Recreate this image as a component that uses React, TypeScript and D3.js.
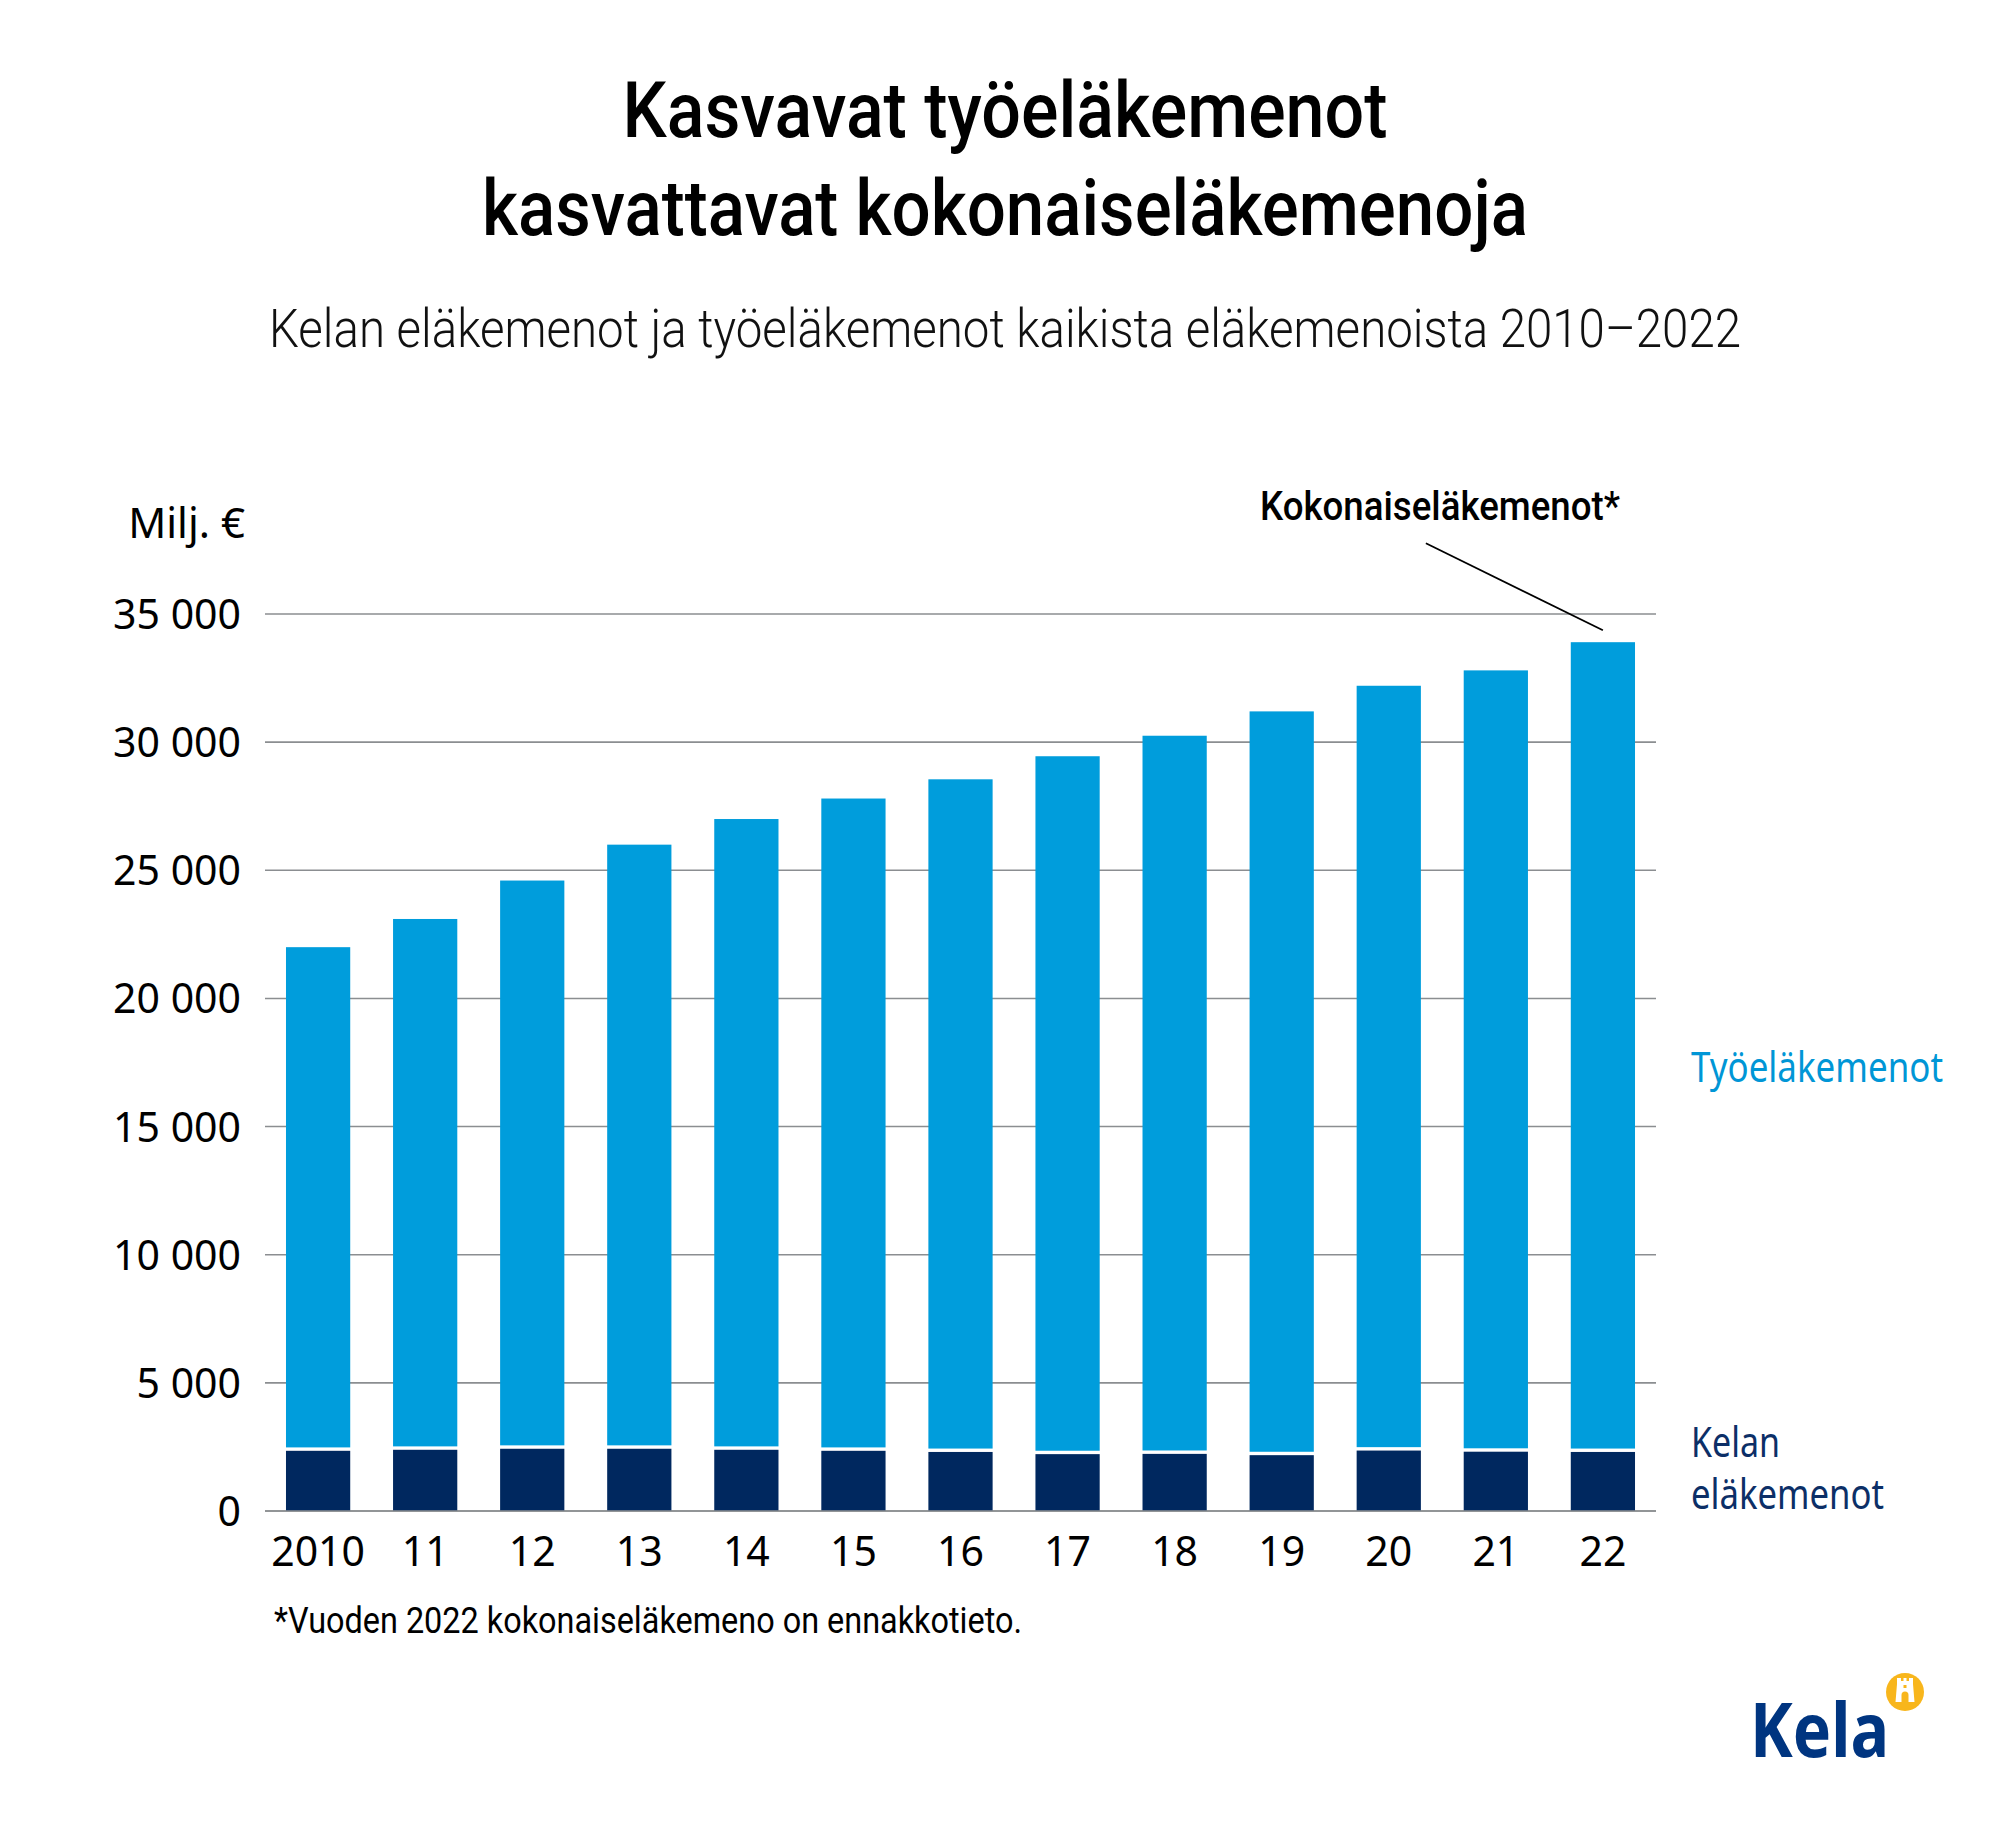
import React from 'react';
import * as d3 from 'd3';

const years = ['2010', '11', '12', '13', '14', '15', '16', '17', '18', '19', '20', '21', '22'];
// Kelan eläkemenot, milj. €
const kelaValues = [2415, 2455, 2495, 2495, 2455, 2415, 2370, 2285, 2295, 2245, 2425, 2380, 2370];
// Työeläkemenot, milj. €
const tyoValues = [19585, 20645, 22105, 23505, 24545, 25385, 26180, 27165, 27955, 28955, 29775, 30420, 31530];
const yTicks = [0, 5000, 10000, 15000, 20000, 25000, 30000, 35000];

const W = 2000;
const H = 1833;
const cond = 'Roboto, "Liberation Sans Narrow", "DejaVu Sans Condensed", sans-serif';
const sans = '"Noto Sans", "Open Sans", sans-serif';

const LIGHT = '#009ddc';
const DARK = '#00285f';
const GRID = '#8b8e91';

const fmt = d3.formatLocale({ decimal: ',', thousands: ' ', grouping: [3], currency: ['', ' €'] }).format(',d');

export default function App() {
  const rows = years.map((y, i) => ({ year: y, kela: kelaValues[i], tyo: tyoValues[i] }));
  const stack = d3.stack<any>().keys(['kela', 'tyo'])(rows);

  const x = d3.scaleBand<string>()
    .domain(years)
    .range([265, 1656])
    .paddingInner(0.4)
    .paddingOuter(0.196);

  const y = d3.scaleLinear().domain([0, 35000]).range([1511, 614]);

  const gap = 1.7;
  const last = rows[rows.length - 1];
  const lastX = (x(last.year) || 0) + x.bandwidth() / 2;
  const lastTop = y(last.kela + last.tyo);

  const cx = 1905;
  const cy = 1692;

  return (
    <svg width={W} height={H} viewBox={`0 0 ${W} ${H}`}
      style={{ position: 'absolute', left: 0, top: 0, background: '#fff' }}>
      <rect width={W} height={H} fill="#fff" />

      {/* titles */}
      <text x={1005} y={137} textAnchor="middle" fontFamily={cond} fontWeight={500} fontSize={78}
        textLength={765} lengthAdjust="spacingAndGlyphs" fill="#000">Kasvavat työeläkemenot</text>
      <text x={1005} y={235} textAnchor="middle" fontFamily={cond} fontWeight={500} fontSize={78}
        textLength={1046} lengthAdjust="spacingAndGlyphs" fill="#000">kasvattavat kokonaiseläkemenoja</text>
      <text x={1005} y={347} textAnchor="middle" fontFamily={cond} fontWeight={300} fontSize={53}
        textLength={1472} lengthAdjust="spacingAndGlyphs" fill="#111">Kelan eläkemenot ja työeläkemenot kaikista eläkemenoista 2010–2022</text>

      {/* unit */}
      <text x={245} y={538} textAnchor="end" fontFamily={sans} fontSize={42} fill="#000">Milj. €</text>

      {/* grid */}
      {yTicks.map(t => (
        <g key={t}>
          <line x1={265} x2={1656} y1={y(t)} y2={y(t)} stroke={GRID} strokeWidth={1.6} />
          <text x={241} y={y(t) + 15} textAnchor="end" fontFamily={sans} fontSize={41} fill="#000">{fmt(t)}</text>
        </g>
      ))}

      {/* bars */}
      {stack[0].map((d, i) => (
        <rect key={'k' + i} x={x(years[i])} width={x.bandwidth()}
          y={y(d[1]) + gap} height={y(d[0]) - y(d[1]) - gap} fill={DARK} />
      ))}
      {stack[1].map((d, i) => (
        <rect key={'t' + i} x={x(years[i])} width={x.bandwidth()}
          y={y(d[1])} height={y(d[0]) - y(d[1]) - gap} fill={LIGHT} />
      ))}
      <line x1={265} x2={1656} y1={y(0)} y2={y(0)} stroke={GRID} strokeWidth={1.6} />

      {/* x labels */}
      {years.map(yr => (
        <text key={yr} x={(x(yr) || 0) + x.bandwidth() / 2} y={1566} textAnchor="middle"
          fontFamily={sans} fontSize={41} fill="#000">{yr}</text>
      ))}

      {/* annotation */}
      <text x={1260} y={520} fontFamily={cond} fontWeight={500} fontSize={41}
        textLength={360} lengthAdjust="spacingAndGlyphs" fill="#000">Kokonaiseläkemenot*</text>
      <line x1={lastX - 177} y1={lastTop - 99} x2={lastX} y2={lastTop - 12} stroke="#000" strokeWidth={1.8} />

      {/* series labels */}
      <text x={1691} y={1082} fontFamily={sans} fontSize={42} textLength={252} lengthAdjust="spacingAndGlyphs"
        fill="#0096d6">Työeläkemenot</text>
      <text x={1691} y={1457} fontFamily={sans} fontSize={42} textLength={89} lengthAdjust="spacingAndGlyphs"
        fill="#0c2f67">Kelan</text>
      <text x={1691} y={1509} fontFamily={sans} fontSize={42} textLength={193} lengthAdjust="spacingAndGlyphs"
        fill="#0c2f67">eläkemenot</text>

      {/* footnote */}
      <text x={274} y={1633} fontFamily={cond} fontWeight={400} fontSize={36} textLength={748}
        lengthAdjust="spacingAndGlyphs" fill="#000">*Vuoden 2022 kokonaiseläkemeno on ennakkotieto.</text>

      {/* Kela logo */}
      <text x={1750} y={1757} fontFamily={sans} fontWeight={700} fontSize={76} textLength={139}
        lengthAdjust="spacingAndGlyphs" fill="#003580">Kela</text>
      <circle cx={cx} cy={cy} r={19} fill="#f8b61c" />
      <path fill="#fff"
        d={`M${cx - 8},${cy - 14} h4 v3 h2.5 v-3 h3 v3 h2.5 v-3 h4 v6 l1.5,18 h-19 l1.5,-18 z`} />
      <path fill="#f8b61c" d={`M${cx - 3.5},${cy + 10} v-7 a3.5,3.5 0 0 1 7,0 v7 z`} />
      <rect x={cx - 1.5} y={cy - 7} width={3} height={3} fill="#f8b61c" />
    </svg>
  );
}
